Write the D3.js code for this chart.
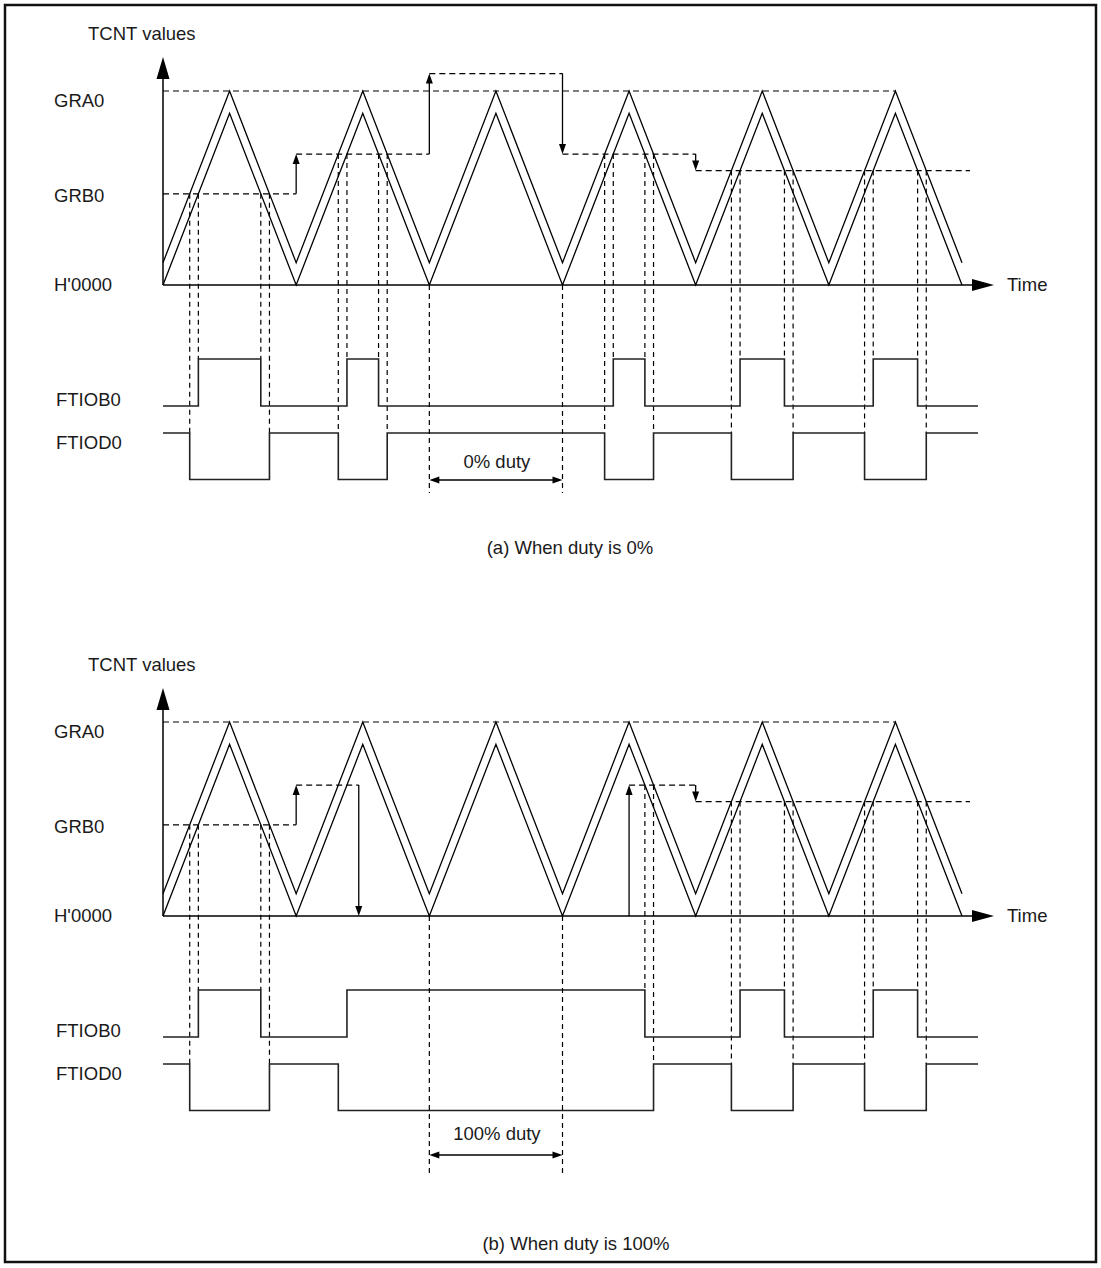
<!DOCTYPE html>
<html><head><meta charset="utf-8">
<script src="https://cdn.jsdelivr.net/npm/d3@7"></script>
<style>
body{margin:0;background:#fff}
text{font-family:"Liberation Sans",Arial,Helvetica,sans-serif;font-size:18.5px;fill:#1a1a1a}
</style>
</head><body>
<svg id="c" width="1101" height="1268"></svg>
<script>
// ---------------- data ----------------
const axisTitle = "TCNT values";
const timeLabel = "Time";
const levelLabels = ["GRA0", "GRB0", "H'0000"];
const outputNames = ["FTIOB0", "FTIOD0"];
const captions = ["(a) When duty is 0%", "(b) When duty is 100%"];
const dutyLabels = ["0% duty", "100% duty"];
const GRA = 100;              // GRA0 compare value (TCNT full scale)
const tcntPeakLower = 88.5;   // peak of the lower TCNT trace
const tcntOffsetUpper = 11.5; // upper trace offset
const timeEnd = 12;           // in half periods
const outputEnd = 12.24;
const gradEnd = 11;           // GRA0 dashed line ends at last peak
const dutyMarks = [4, 6];     // troughs bounding the duty span
// GRB0 compare steps: [tStart, tEnd, value, showGuides]
const grbStepsA = [[0, 2, 47, true], [2, 4, 67.5, true], [4, 6, 109, true], [6, 8, 67.5, true], [8, 12.12, 59, true]];
const grbStepsB = [[0, 2, 47, true], [2, 2.94, 67.5, false], [2.94, 7, 0, true], [7, 8, 67.5, true], [8, 12.12, 59, true]];

// ---------------- drawing ----------------
const svg = d3.select("#c");
svg.append("rect").attr("x", 5).attr("y", 5).attr("width", 1091).attr("height", 1257)
  .attr("fill", "none").attr("stroke", "#111").attr("stroke-width", 2.5);

const x = d3.scaleLinear().domain([0, timeEnd]).range([163, 962]);
const tri = t => { const k = Math.floor(t), f = t - k; return (k % 2 === 0) ? f : 1 - f; };
const lowerWave = t => tcntPeakLower * tri(t);
const upperWave = t => tcntOffsetUpper + tcntPeakLower * tri(t);

const panels = [
  {dy: 0, steps: grbStepsA, duty: dutyLabels[0], caption: captions[0], capX: 570, capY: 554,
   dutyArrowY: 480, dutyBottom: 493, dutyTextY: 468},
  {dy: 631, steps: grbStepsB, duty: dutyLabels[1], caption: captions[1], capX: 576, capY: 1250,
   dutyArrowY: 524, dutyBottom: 546, dutyTextY: 509}
];

function arrowHead(g, tipX, tipY, dir, len, hw) {
  let pts;
  if (dir === "up") pts = [[tipX, tipY], [tipX - hw, tipY + len], [tipX + hw, tipY + len]];
  else if (dir === "down") pts = [[tipX, tipY], [tipX - hw, tipY - len], [tipX + hw, tipY - len]];
  else if (dir === "left") pts = [[tipX, tipY], [tipX + len, tipY - hw], [tipX + len, tipY + hw]];
  else pts = [[tipX, tipY], [tipX - len, tipY - hw], [tipX - len, tipY + hw]];
  g.append("polygon").attr("points", pts.map(p => p.join(",")).join(" ")).attr("fill", "#000");
}

function crossings(steps, wave, off) {
  const res = [];
  steps.forEach(s => {
    const [t0, t1, c] = s;
    const f = (c - off) / tcntPeakLower;
    if (!(f > 0 && f < 1)) return;
    for (let k = Math.floor(t0); k < Math.ceil(t1); k++) {
      const t = (k % 2 === 0) ? k + f : k + 1 - f;
      if (t > t0 && t < t1) res.push({t, c, guide: s[3]});
    }
  });
  return res;
}
const cmpAt = (steps, t) => { for (const s of steps) if (t >= s[0] && t < s[1]) return s[2]; return steps[steps.length - 1][2]; };

function stepSeries(steps, wave, crosses, activeWhenAbove) {
  const cand = [0, outputEnd, ...steps.map(s => s[0]), ...crosses.map(c => c.t)]
    .filter(t => t >= 0 && t <= outputEnd).sort((a, b) => a - b);
  const u = cand.filter((t, i) => i === 0 || t - cand[i - 1] > 1e-6);
  const segs = [];
  for (let i = 0; i < u.length - 1; i++) {
    const m = (u[i] + u[i + 1]) / 2;
    const st = wave(m) > cmpAt(steps, m) ? 1 : 0;
    const v = activeWhenAbove ? st : 1 - st;
    if (segs.length && segs[segs.length - 1].v === v) segs[segs.length - 1].t1 = u[i + 1];
    else segs.push({t0: u[i], t1: u[i + 1], v});
  }
  const pts = [];
  segs.forEach(s => { pts.push([s.t0, s.v]); pts.push([s.t1, s.v]); });
  return pts;
}

panels.forEach(p => {
  const g = svg.append("g");
  const dy = p.dy;
  const y = d3.scaleLinear().domain([0, GRA]).range([285 + dy, 91 + dy]);
  const yOB = d3.scaleLinear().domain([0, 1]).range([406 + dy, 359 + dy]);
  const yOD = d3.scaleLinear().domain([0, 1]).range([479.5 + dy, 433 + dy]);

  // labels
  g.append("text").attr("x", 88).attr("y", 40 + dy).text(axisTitle);
  g.append("text").attr("x", 54).attr("y", 107 + dy).text(levelLabels[0]);
  g.append("text").attr("x", 54).attr("y", 202 + dy).text(levelLabels[1]);
  g.append("text").attr("x", 54).attr("y", 291 + dy).text(levelLabels[2]);
  g.append("text").attr("x", 1007).attr("y", 291 + dy).text(timeLabel);
  g.append("text").attr("x", 56).attr("y", 406 + dy).text(outputNames[0]);
  g.append("text").attr("x", 56).attr("y", 449 + dy).text(outputNames[1]);
  g.append("text").attr("x", p.capX).attr("y", p.capY).attr("text-anchor", "middle").text(p.caption);

  // axes
  g.append("line").attr("x1", x(0)).attr("x2", x(0)).attr("y1", y(0)).attr("y2", 78 + dy)
    .attr("stroke", "#000").attr("stroke-width", 1.5);
  arrowHead(g, x(0), 57 + dy, "up", 22, 6.5);
  g.append("line").attr("x1", x(0)).attr("x2", 973).attr("y1", y(0)).attr("y2", y(0))
    .attr("stroke", "#000").attr("stroke-width", 1.5);
  arrowHead(g, 994, y(0), "right", 22, 6);

  // GRA0 dashed
  g.append("line").attr("x1", x(0)).attr("x2", x(gradEnd)).attr("y1", y(GRA)).attr("y2", y(GRA))
    .attr("stroke", "#000").attr("stroke-width", 1.2).attr("stroke-dasharray", "6,4");

  // TCNT traces
  const ts = d3.range(0, timeEnd + 1);
  const line = d3.line().x(d => x(d[0])).y(d => y(d[1]));
  g.append("path").attr("d", line(ts.map(t => [t, upperWave(t)])))
    .attr("fill", "none").attr("stroke", "#000").attr("stroke-width", 1.3);
  g.append("path").attr("d", line(ts.map(t => [t, lowerWave(t)])))
    .attr("fill", "none").attr("stroke", "#000").attr("stroke-width", 1.3);

  // GRB0 compare steps
  p.steps.forEach((s, i) => {
    if (s[2] > 0) {
      g.append("line").attr("x1", x(s[0])).attr("x2", x(s[1])).attr("y1", y(s[2])).attr("y2", y(s[2]))
        .attr("stroke", "#000").attr("stroke-width", 1.2).attr("stroke-dasharray", "6,4");
    }
    if (i > 0) {
      const prev = p.steps[i - 1][2];
      const up = s[2] > prev;
      const tipY = y(s[2]);
      g.append("line").attr("x1", x(s[0])).attr("x2", x(s[0]))
        .attr("y1", y(prev)).attr("y2", up ? tipY + 8 : tipY - 8)
        .attr("stroke", "#000").attr("stroke-width", 1.3);
      arrowHead(g, x(s[0]), tipY, up ? "up" : "down", 10, 3.5);
    }
  });

  // crossings & outputs
  const crossLower = crossings(p.steps, lowerWave, 0);
  const crossUpper = crossings(p.steps, upperWave, tcntOffsetUpper);
  const obPts = stepSeries(p.steps, lowerWave, crossLower, true);
  const odPts = stepSeries(p.steps, upperWave, crossUpper, false);

  const guide = (t, c, yEnd) => g.append("line").attr("x1", x(t)).attr("x2", x(t))
    .attr("y1", y(c)).attr("y2", yEnd).attr("stroke", "#000").attr("stroke-width", 1.2)
    .attr("stroke-dasharray", "5,4");
  crossLower.filter(c => c.guide).forEach(c => guide(c.t, c.c, yOB(1)));
  crossUpper.filter(c => c.guide).forEach(c => guide(c.t, c.c, yOD(1)));

  const ob = d3.line().x(d => x(d[0])).y(d => yOB(d[1]));
  const od = d3.line().x(d => x(d[0])).y(d => yOD(d[1]));
  g.append("path").attr("d", ob(obPts)).attr("fill", "none").attr("stroke", "#222").attr("stroke-width", 1.6);
  g.append("path").attr("d", od(odPts)).attr("fill", "none").attr("stroke", "#222").attr("stroke-width", 1.6);

  // duty span
  const aY = p.dutyArrowY + dy;
  dutyMarks.forEach(t => {
    g.append("line").attr("x1", x(t)).attr("x2", x(t)).attr("y1", y(0)).attr("y2", p.dutyBottom + dy)
      .attr("stroke", "#000").attr("stroke-width", 1.2).attr("stroke-dasharray", "5,4");
  });
  g.append("line").attr("x1", x(dutyMarks[0]) + 6).attr("x2", x(dutyMarks[1]) - 6)
    .attr("y1", aY).attr("y2", aY).attr("stroke", "#000").attr("stroke-width", 1.3);
  arrowHead(g, x(dutyMarks[0]), aY, "left", 10, 3.5);
  arrowHead(g, x(dutyMarks[1]), aY, "right", 10, 3.5);
  g.append("text").attr("x", (x(dutyMarks[0]) + x(dutyMarks[1])) / 2 + 1).attr("y", p.dutyTextY + dy)
    .attr("text-anchor", "middle").text(p.duty);
});
</script>
</body></html>
